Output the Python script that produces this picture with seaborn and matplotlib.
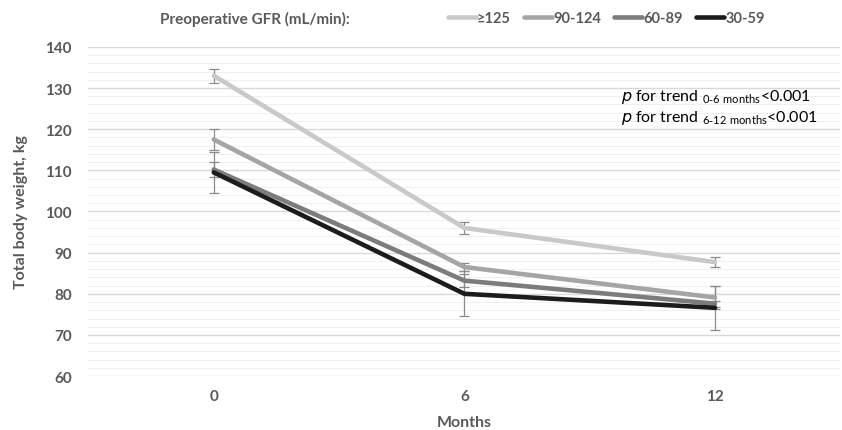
import numpy as np
import pandas as pd
import matplotlib
matplotlib.use("Agg")
import matplotlib.pyplot as plt
import seaborn as sns
from matplotlib.ticker import MultipleLocator

# data
months = ["0", "6", "12"]
groups = ["≥125", "90-124", "60-89", "30-59"]
w_125 = [133.0, 96.0, 87.7]
w_90 = [117.5, 86.5, 79.1]
w_60 = [110.2, 83.2, 77.6]
w_30 = [109.5, 80.0, 76.6]
err_125 = [1.7, 1.4, 1.2]
err_90 = [2.6, 0.9, 2.8]
err_60 = [1.8, 1.6, 0.7]
err_30 = [5.0, 5.5, 5.3]
colors = ["#c9c9c9", "#a5a5a5", "#7c7c7c", "#1c1c1c"]

weights = [w_125, w_90, w_60, w_30]
errors = [err_125, err_90, err_60, err_30]

rows = []
for g, w, e in zip(groups, weights, errors):
    for i, (m, v, s) in enumerate(zip(months, w, e)):
        rows.append({"group": g, "pos": i, "month": m, "weight": v, "err": s})
df = pd.DataFrame(rows)

sns.set_style("white")
plt.rcParams["font.family"] = ["Lato", "DejaVu Sans"]
txt_col = "#595959"

fig = plt.figure(figsize=(8.42, 4.31), dpi=100)
ax = fig.add_axes([0.105, 0.125, 0.893, 0.764])

# error bars first, behind the lines
for g in groups:
    d = df[df["group"] == g]
    ax.errorbar(d["pos"], d["weight"], yerr=d["err"], fmt="none",
                ecolor="#8a8a8a", elinewidth=0.9, capsize=3.5, capthick=0.9, zorder=2)

sns.lineplot(data=df, x="pos", y="weight", hue="group", hue_order=groups,
             palette=colors, linewidth=3.3, ax=ax, legend=False, zorder=3)

ax.set_xlim(-0.5, 2.5)
ax.set_ylim(60, 140)
ax.set_xticks(range(len(months)))
ax.set_xticklabels(months)
ax.yaxis.set_major_locator(MultipleLocator(10))
ax.yaxis.set_minor_locator(MultipleLocator(2))
ax.grid(which="major", axis="y", color="#d9d9d9", linewidth=1.0, zorder=0)
ax.grid(which="minor", axis="y", color="#f0f0f0", linewidth=0.8, zorder=0)
ax.set_axisbelow(True)
for s in ax.spines.values():
    s.set_visible(False)
ax.tick_params(axis="both", which="both", length=0, labelsize=11,
               labelcolor=txt_col)
ax.tick_params(axis="y", pad=12)
ax.tick_params(axis="x", pad=9)
for lab in ax.get_xticklabels() + ax.get_yticklabels():
    lab.set_fontweight("bold")

ax.set_xlabel("Months", fontsize=11.5, fontweight="bold", color=txt_col, labelpad=9)
ax.set_ylabel("Total body weight, kg", fontsize=11.5, fontweight="bold", color=txt_col, labelpad=12)

# legend at top
fig.text(0.19, 0.955, "Preoperative GFR (mL/min):", fontsize=11, fontweight="bold",
         color=txt_col, va="center")
handles = [plt.Line2D([0], [0], color=c, linewidth=3.3) for c in colors]
fig.legend(handles, groups, loc="center", bbox_to_anchor=(0.72, 0.955), ncol=4,
           frameon=False, handlelength=1.9, handletextpad=0.1,
           columnspacing=0.9, labelcolor=txt_col, prop={"weight": "bold", "size": 10.5})

# p for trend notes
ax.text(0.708, 0.851, r"$\it{p}$ for trend $_{\mathregular{0\text{-}6\ months}}$<0.001",
        transform=ax.transAxes, fontsize=11.5, color="#000000", va="center")
ax.text(0.708, 0.787, r"$\it{p}$ for trend $_{\mathregular{6\text{-}12\ months}}$<0.001",
        transform=ax.transAxes, fontsize=11.5, color="#000000", va="center")

fig.savefig("out.png", dpi=100)
